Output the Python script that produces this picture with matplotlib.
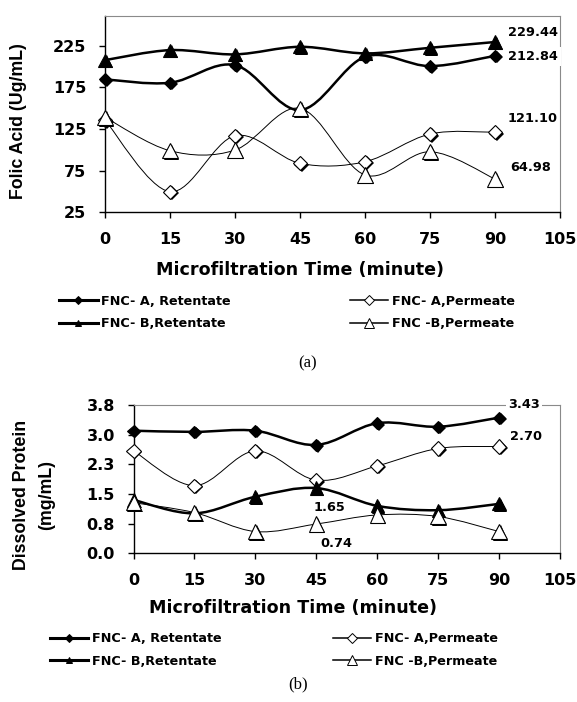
import matplotlib
matplotlib.use("Agg")
import matplotlib.pyplot as plt
import matplotlib.patheffects as pe
from matplotlib.lines import Line2D
from matplotlib.patches import PathPatch
from matplotlib.path import Path
import numpy as np

TIME = [0, 15, 30, 45, 60, 75, 90]
X_TICKS = [0, 15, 30, 45, 60, 75, 90, 105]

# Ácido fólico (Ug/mL)
FOLIC_A_RET = [184.6, 180.5, 201.7, 147.7, 211.7, 200.5, 212.84]
FOLIC_A_PERM = [135.7, 49.7, 116.9, 83.8, 85.7, 119.0, 121.10]
FOLIC_B_RET = [207.7, 219.7, 214.6, 223.7, 215.8, 222.5, 229.44]
FOLIC_B_PERM = [139.0, 98.9, 99.7, 149.8, 69.8, 97.7, 64.98]
FOLIC_TICKS = [25, 75, 125, 175, 225]

# Proteína disuelta (mg/mL)
PROT_A_RET = [3.10, 3.07, 3.10, 2.74, 3.29, 3.20, 3.43]
PROT_A_PERM = [2.59, 1.71, 2.59, 1.85, 2.21, 2.65, 2.70]
PROT_B_RET = [1.35, 1.01, 1.43, 1.65, 1.20, 1.09, 1.25]
PROT_B_PERM = [1.28, 1.03, 0.55, 0.74, 0.97, 0.93, 0.55]
PROT_TICKS = [0, 0.75, 1.5, 2.25, 3.0, 3.75]
PROT_TICK_LABELS = ["0.0", "0.8", "1.5", "2.3", "3.0", "3.8"]

NAMES = ["FNC- A, Retentate", "FNC- A,Permeate", "FNC- B,Retentate", "FNC -B,Permeate"]

plt.rcParams.update({
    "font.family": "DejaVu Sans",
    "font.weight": "bold",
    "axes.linewidth": 1.0,
})

# estilo de cada serie: marcador, relleno, tamaño, grosor de línea
STYLE = [
    dict(marker="D", mfc="black", ms=6.2, lw=1.8, leg_ms=3.6),
    dict(marker="D", mfc="white", ms=7.2, lw=0.7, leg_ms=4.6),
    dict(marker="^", mfc="black", ms=9.5, lw=1.8, leg_ms=5.0),
    dict(marker="^", mfc="white", ms=11.0, lw=0.7, leg_ms=7.0),
]

SHADOW = [pe.SimplePatchShadow(offset=(1.1, -1.1), shadow_rgbFace="black", alpha=1.0),
          pe.Normal()]


def curva_suave(xs, ys):
    # segmentos Bezier tipo Catmull-Rom (línea suavizada)
    pts = np.column_stack([xs, ys]).astype(float)
    ext = np.vstack([pts[0], pts, pts[-1]])
    verts, codes = [pts[0]], [Path.MOVETO]
    for i in range(len(pts) - 1):
        p0, p1, p2, p3 = ext[i], ext[i + 1], ext[i + 2], ext[i + 3]
        verts += [p1 + (p2 - p0) / 6, p2 - (p3 - p1) / 6, p2]
        codes += [Path.CURVE4] * 3
    return Path(verts, codes)


def dibujar_series(ax, series):
    for z, (ys, st) in enumerate(zip(series, STYLE)):
        ax.add_patch(PathPatch(curva_suave(TIME, ys), fc="none", ec="black",
                               lw=st["lw"], zorder=2 + z, capstyle="round",
                               clip_on=False))
        ax.plot(TIME, ys, ls="none", marker=st["marker"], ms=st["ms"],
                mfc=st["mfc"], mec="black", mew=0.8, zorder=2.5 + z,
                path_effects=SHADOW, clip_on=False)


def estilo_ejes(ax, yticks, ylim):
    ax.set_xlim(0, 105)
    ax.set_ylim(*ylim)
    ax.set_xticks(X_TICKS)
    ax.set_yticks(yticks)
    for s in ("top", "right"):
        ax.spines[s].set_color("#8a8a8a")
        ax.spines[s].set_linewidth(0.8)
    ax.tick_params(axis="both", direction="out", length=4.5, width=1,
                   labelsize=11.5)
    ax.tick_params(axis="y", pad=9)
    ax.tick_params(axis="x", pad=9.5)


def leyenda(fig, y, x1, x2):
    handles = []
    for st in STYLE:
        handles.append(Line2D([], [], color="black", lw=st["lw"] + 0.4,
                              marker=st["marker"], ms=st["leg_ms"],
                              mfc=st["mfc"], mec="black", mew=0.7))
    for cols, x in (((0, 2), x1), ((1, 3), x2)):
        fig.legend([handles[i] for i in cols], [NAMES[i] for i in cols],
                   loc="center left", bbox_to_anchor=(x, y), frameon=False,
                   fontsize=9.2, handlelength=3.0, handletextpad=0.3,
                   labelspacing=0.75, borderpad=0, borderaxespad=0,
                   numpoints=1)


fig = plt.figure(figsize=(5.77, 7.02), dpi=100)

# (a) ácido fólico
ax1 = fig.add_axes([0.182, 0.6976, 0.7886, 0.280])
dibujar_series(ax1, [FOLIC_A_RET, FOLIC_A_PERM, FOLIC_B_RET, FOLIC_B_PERM])
estilo_ejes(ax1, FOLIC_TICKS, (25, 261))
lbl = dict(textcoords="offset pixels", fontsize=9.3, ha="left", va="center")
ax1.annotate(f"{FOLIC_B_RET[-1]:.2f}", (TIME[-1], FOLIC_B_RET[-1]), xytext=(13, 10), **lbl)
ax1.annotate(f"{FOLIC_A_RET[-1]:.2f}", (TIME[-1], FOLIC_A_RET[-1]), xytext=(13, -1),
             bbox=dict(fc="white", ec="none", pad=2), zorder=10, **lbl)
ax1.annotate(f"{FOLIC_A_PERM[-1]:.2f}", (TIME[-1], FOLIC_A_PERM[-1]), xytext=(13, 14), **lbl)
ax1.annotate(f"{FOLIC_B_PERM[-1]:.2f}", (TIME[-1], FOLIC_B_PERM[-1]), xytext=(15, 11), **lbl)
for a in ax1.texts:
    a.set_clip_on(False)

fig.text(0.0317, 0.8276, "Folic Acid (Ug/mL)", rotation=90, ha="center", va="center",
         fontsize=12.8, family="Liberation Sans")
fig.text(0.52, 0.6154, "Microfiltration Time (minute)", ha="center", va="center",
         fontsize=12.6)
leyenda(fig, 0.5546, 0.1028, 0.6066)
fig.text(0.5338, 0.4829, "(a)", ha="center", va="center", fontsize=12,
         family="Liberation Serif", weight="normal")

# (b) proteína disuelta
ax2 = fig.add_axes([0.2314, 0.2118, 0.7391, 0.2113])
dibujar_series(ax2, [PROT_A_RET, PROT_A_PERM, PROT_B_RET, PROT_B_PERM])
estilo_ejes(ax2, PROT_TICKS, (0, 3.75))
ax2.set_yticklabels(PROT_TICK_LABELS)
ax2.annotate(f"{PROT_A_RET[-1]:.2f}", (TIME[-1], PROT_A_RET[-1]), xytext=(9, 13),
             bbox=dict(fc="white", ec="none", pad=1.5), zorder=10, **lbl)
ax2.annotate(f"{PROT_A_PERM[-1]:.2f}", (TIME[-1], PROT_A_PERM[-1]), xytext=(11, 10), **lbl)
ax2.annotate(f"{PROT_B_RET[3]:.2f}", (TIME[3], PROT_B_RET[3]), xytext=(-3, -19),
             zorder=10, **lbl)
ax2.annotate(f"{PROT_B_PERM[3]:.2f}", (TIME[3], PROT_B_PERM[3]), xytext=(4, -19),
             bbox=dict(fc="white", ec="none", pad=2), zorder=10, **lbl)
for a in ax2.texts:
    a.set_clip_on(False)

fig.text(0.0589, 0.2949, "Dissolved Protein\n(mg/mL)", rotation=90, ha="center",
         va="center", fontsize=12.8, family="Liberation Sans", linespacing=1.6,
         multialignment="center")
fig.text(0.5078, 0.1339, "Microfiltration Time (minute)", ha="center", va="center",
         fontsize=12.6)
leyenda(fig, 0.0740, 0.0861, 0.577)
fig.text(0.5165, 0.0256, "(b)", ha="center", va="center", fontsize=12,
         family="Liberation Serif", weight="normal")

fig.savefig("out.png", dpi=100, facecolor="white")
